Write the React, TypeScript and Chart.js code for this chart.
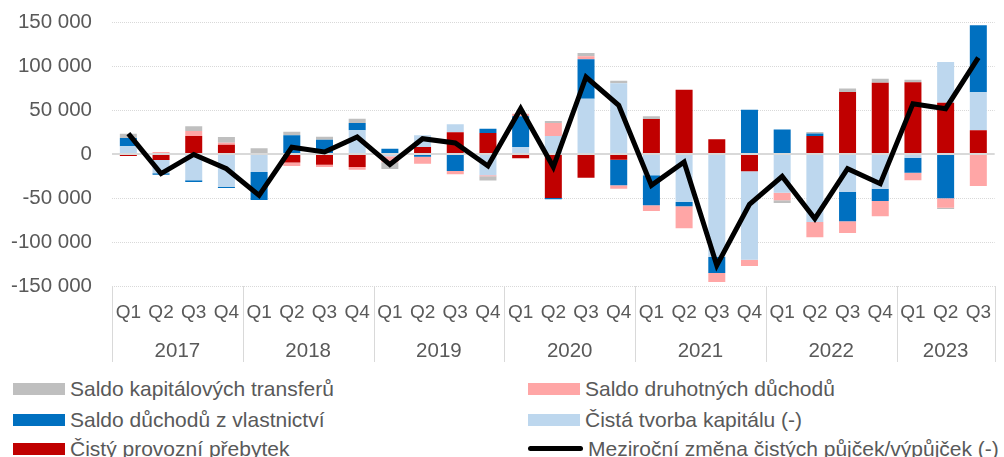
import { useEffect, useRef } from "react";
import { Chart, registerables } from "chart.js";

Chart.register(...registerables);

// ---------- DATA ----------
const categories = [
  "Q1", "Q2", "Q3", "Q4",
  "Q1", "Q2", "Q3", "Q4",
  "Q1", "Q2", "Q3", "Q4",
  "Q1", "Q2", "Q3", "Q4",
  "Q1", "Q2", "Q3", "Q4",
  "Q1", "Q2", "Q3", "Q4",
  "Q1", "Q2", "Q3",
];
const years = ["2017", "2018", "2019", "2020", "2021", "2022", "2023"];
const quartersPerYear = [4, 4, 4, 4, 4, 4, 3];

const cistyProvozniPrebytek = [
  -2300, -6800, 20500, 10600, -800, -9800, -12100, -14800,
  0, 8000, 24600, 23900, -4900, -50000, -26900, -6400,
  39800, 73100, 16700, -19700, 0, 20500, 70500, 81100,
  81400, 58300, 26900,
];
const cistaTvorbaKapitalu = [
  8700, -15200, -29900, -37500, -19700, 0, 0, 26900,
  -2500, 13300, 9100, -24200, 8000, 20500, 62900, 80300,
  -24200, -54500, -117000, -100400, -43900, -77300, -43200, -39400,
  -4200, 46200, 43200,
];
const saldoDuchoduZVlastnictvi = [
  9500, -1500, -1900, -1100, -31800, 21200, 16300, 8300,
  6000, -3000, -19300, 4900, 34800, -1500, 44700, -29200,
  -34100, -4900, -18200, 50400, 27700, 2700, -33300, -14000,
  -17000, -50400, 76100,
];
const saldoDruhotnychDuchodu = [
  0, 2300, 5700, 2300, 0, -3800, -2700, -3000,
  -7000, -8000, -3800, -1000, 3000, 14800, 3400, -3800,
  -6400, -25000, -10200, -7200, -8700, -17400, -13300, -17400,
  -8700, -10600, -36400,
];
const saldoKapitalovychTransferu = [
  4900, 0, 5300, 6400, 6400, 4200, 3400, 4900,
  -7500, 0, 0, -4900, 0, 2300, 3800, 3000,
  3000, 0, 0, 0, -3000, 1900, 3800, 4500,
  3000, -1500, 0,
];
const mezirocniZmena = [
  23100, -22300, -500, -16700, -47000, 7600, 2300, 19300,
  -12000, 17400, 12500, -13600, 51500, -14800, 87500, 55300,
  -35600, -9100, -126500, -57200, -25400, -73500, -16700, -33700,
  57200, 51500, 109500,
];

const yMin = -150000;
const yMax = 150000;
const yStep = 50000;

// ---------- STYLE ----------
const TEXT = "#595959";
const GRID = "#D9D9D9";
const FONT = "'Liberation Sans', Arial, sans-serif";
const NARROW = "'Liberation Sans Narrow', 'Arial Narrow', 'Liberation Sans', Arial, sans-serif";

const barSeries = [
  { label: "Čistý provozní přebytek", data: cistyProvozniPrebytek, color: "#C00000" },
  { label: "Čistá tvorba kapitálu (-)", data: cistaTvorbaKapitalu, color: "#BDD7EE" },
  { label: "Saldo důchodů z vlastnictví", data: saldoDuchoduZVlastnictvi, color: "#0070C0" },
  { label: "Saldo druhotných důchodů", data: saldoDruhotnychDuchodu, color: "#FFA6A6" },
  { label: "Saldo kapitálových transferů", data: saldoKapitalovychTransferu, color: "#BFBFBF" },
];
const lineSeries = { label: "Meziroční změna čistých půjček/výpůjček (-)", data: mezirocniZmena, color: "#000000" };

function fmt(v: number) {
  const s = Math.abs(v).toString().replace(/\B(?=(\d{3})+(?!\d))/g, " ");
  return (v < 0 ? "-" : "") + s;
}

const decorPlugin = {
  id: "decor",
  beforeDatasetDraw(chart: any, args: any) {
    if (args.meta.type !== "line") return;
    const ctx = chart.ctx;
    const y = chart.scales.y.getPixelForValue(0);
    const { left, right } = chart.chartArea;
    ctx.save();
    ctx.strokeStyle = GRID;
    ctx.lineWidth = 2;
    ctx.beginPath();
    ctx.moveTo(left, y);
    ctx.lineTo(right, y);
    ctx.stroke();
    ctx.restore();
  },
  afterDraw(chart: any) {
    const ctx = chart.ctx;
    const xs = chart.scales.x;
    const bottom = chart.chartArea.bottom;
    ctx.save();
    ctx.strokeStyle = GRID;
    ctx.lineWidth = 1;
    ctx.fillStyle = TEXT;
    ctx.font = `20.5px ${FONT}`;
    ctx.textAlign = "center";
    ctx.textBaseline = "middle";
    let start = 0;
    const drawSep = (idx: number) => {
      const px = Math.round(xs.getPixelForValue(idx - 0.5)) + 0.5;
      ctx.beginPath();
      ctx.moveTo(px, bottom);
      ctx.lineTo(px, bottom + 76);
      ctx.stroke();
    };
    years.forEach((yr, k) => {
      const n = quartersPerYear[k];
      drawSep(start);
      const a = xs.getPixelForValue(start - 0.5);
      const b = xs.getPixelForValue(start + n - 0.5);
      ctx.fillText(yr, (a + b) / 2, bottom + 65);
      start += n;
    });
    drawSep(start);
    ctx.restore();
  },
};

const legendOrder = [
  barSeries[4], barSeries[3],
  barSeries[2], barSeries[1],
  barSeries[0], lineSeries,
];

export default function App() {
  const ref = useRef<HTMLCanvasElement>(null);

  useEffect(() => {
    if (!ref.current) return;
    const chart = new Chart(ref.current, {
      type: "bar",
      data: {
        labels: categories,
        datasets: [
          ...barSeries.map((s) => ({
            type: "bar" as const,
            label: s.label,
            data: s.data,
            backgroundColor: s.color,
            borderWidth: 0,
            barPercentage: 0.52,
            categoryPercentage: 1,
            stack: "bars",
            order: 1,
          })),
          {
            type: "line" as const,
            label: lineSeries.label,
            data: lineSeries.data,
            borderColor: lineSeries.color,
            borderWidth: 5,
            pointRadius: 0,
            tension: 0,
            borderJoinStyle: "miter",
            stack: "line",
            order: 0,
          } as any,
        ],
      },
      options: {
        responsive: false,
        animation: false,
        layout: { padding: { top: 22, left: 0, right: 0, bottom: 0 } },
        plugins: { legend: { display: false }, tooltip: { enabled: false } },
        scales: {
          x: {
            stacked: true,
            offset: true,
            grid: { display: false, drawTicks: false },
            border: { display: false },
            ticks: {
              color: TEXT,
              font: { family: NARROW, size: 19 },
              padding: 15,
              maxRotation: 0,
              autoSkip: false,
            },
            afterFit: (s: any) => {
              s.height = 86;
            },
          },
          y: {
            stacked: true,
            min: yMin,
            max: yMax,
            ticks: {
              stepSize: yStep,
              color: TEXT,
              font: { family: FONT, size: 20.5 },
              padding: 6,
              callback: (v: any) => fmt(Number(v)),
            },
            grid: {
              color: (c: any) => (c.tick && c.tick.value === 0 ? "rgba(0,0,0,0)" : GRID),
              lineWidth: 1,
              drawTicks: true,
              tickLength: 14,
              tickColor: "rgba(0,0,0,0)",
            },
            border: { display: false, dash: [1, 1] },
            afterFit: (s: any) => {
              s.width = 112;
            },
          },
        },
      } as any,
      plugins: [decorPlugin],
    });
    return () => chart.destroy();
  }, []);

  const rowCenters = [389, 419.5, 448.5];
  const colBox = [13, 528];

  return (
    <div
      style={{
        position: "fixed",
        left: 0,
        top: 0,
        width: 1004,
        height: 457,
        overflow: "hidden",
        background: "#fff",
      }}
    >
      <canvas ref={ref} width={1006} height={372} style={{ display: "block", width: 1006, height: 372 }} />
      {legendOrder.map((s, i) => {
        const row = Math.floor(i / 2);
        const col = i % 2;
        const isLine = s === lineSeries;
        return (
          <div
            key={s.label}
            style={{
              position: "absolute",
              left: colBox[col],
              top: rowCenters[row] - 15,
              height: 30,
              display: "flex",
              alignItems: "center",
              whiteSpace: "nowrap",
              fontFamily: FONT,
              fontSize: 21,
              color: TEXT,
            }}
          >
            <span
              style={{
                display: "inline-block",
                width: isLine ? 55 : 52,
                height: isLine ? 5 : 12,
                borderRadius: isLine ? 3 : 0,
                background: s.color,
                marginRight: 5,
              }}
            />
            <span>{s.label}</span>
          </div>
        );
      })}
    </div>
  );
}
